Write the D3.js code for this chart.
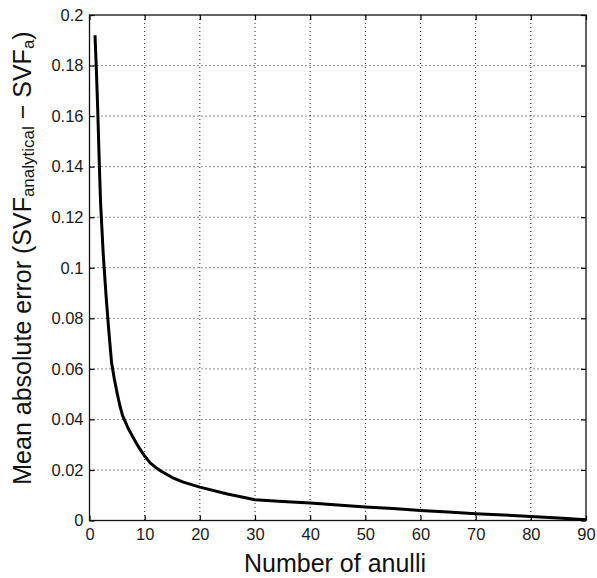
<!DOCTYPE html>
<html>
<head>
<meta charset="utf-8">
<script src="https://cdn.jsdelivr.net/npm/d3@7/dist/d3.min.js"></script>
<style>
  html, body { margin: 0; padding: 0; background: #fff; }
  svg { display: block; font-family: "Liberation Sans", Arial, Helvetica, sans-serif; }
</style>
</head>
<body>
<svg id="chart" width="597" height="578"></svg>
<script>
// ---- data ----
const annuli = [1, 1.25, 1.5, 1.75, 2, 2.5, 3, 3.5, 4, 4.5, 5, 5.5, 6, 6.5, 7, 8, 9, 10, 11, 12, 13, 15, 17, 20, 25, 30, 35, 40, 45, 50, 55, 60, 65, 70, 75, 80, 85, 90];
const meanAbsError = [0.192, 0.178, 0.162, 0.143, 0.126, 0.105, 0.089, 0.075, 0.0625, 0.056, 0.0505, 0.0455, 0.0415, 0.039, 0.0365, 0.0325, 0.0287, 0.0255, 0.0228, 0.021, 0.0195, 0.0170, 0.0152, 0.0132, 0.0105, 0.0082, 0.0075, 0.0069, 0.0061, 0.0053, 0.0047, 0.0040, 0.0034, 0.0027, 0.0022, 0.0016, 0.0010, 0.0003];
const xTicks = [0, 10, 20, 30, 40, 50, 60, 70, 80, 90];
const yTicks = [0, 0.02, 0.04, 0.06, 0.08, 0.1, 0.12, 0.14, 0.16, 0.18, 0.2];
const xLabel = "Number of anulli";

(function () {
// ---- layout ----
const svg = d3.select("#chart");
const pL = 89.5, pR = 586, pT = 15, pB = 520.5;
const x = d3.scaleLinear().domain([0, 90]).range([pL, pR]);
const y = d3.scaleLinear().domain([0, 0.2]).range([pB, pT]);

// grid
const grid = svg.append("g").attr("stroke", "#222").attr("stroke-width", 1).attr("stroke-dasharray", "1,3");
grid.selectAll("line.vx").data(xTicks.slice(1, -1)).join("line").attr("class", "vx")
  .attr("x1", d => x(d)).attr("x2", d => x(d)).attr("y1", pT).attr("y2", pB);
grid.selectAll("line.hy").data(yTicks.slice(1, -1)).join("line").attr("class", "hy")
  .attr("y1", d => y(d)).attr("y2", d => y(d)).attr("x1", pL).attr("x2", pR);

// axes
const fmtY = d => d === 0 ? "0" : String(+d.toFixed(2));
const axB = svg.append("g").attr("transform", `translate(0,${pB})`)
  .call(d3.axisBottom(x).tickValues(xTicks).tickSizeInner(-5).tickSizeOuter(0).tickPadding(8).tickFormat(d3.format("d")));
const axT = svg.append("g").attr("transform", `translate(0,${pT})`)
  .call(d3.axisTop(x).tickValues(xTicks).tickSizeInner(-5).tickSizeOuter(0).tickFormat(""));
const axL = svg.append("g").attr("transform", `translate(${pL},0)`)
  .call(d3.axisLeft(y).tickValues(yTicks).tickSizeInner(-5).tickSizeOuter(0).tickPadding(6).tickFormat(fmtY));
const axR = svg.append("g").attr("transform", `translate(${pR},0)`)
  .call(d3.axisRight(y).tickValues(yTicks).tickSizeInner(-5).tickSizeOuter(0).tickFormat(""));
[axB, axT, axL, axR].forEach(a => {
  a.select(".domain").remove();
  a.selectAll(".tick line").attr("stroke", "#000").attr("stroke-width", 1.2);
  a.selectAll("text").attr("fill", "#1a1a1a").style("font-size", "16.5px")
    .style("font-family", "'Liberation Sans', Arial, sans-serif");
});

// box
svg.append("rect").attr("x", pL).attr("y", pT).attr("width", pR - pL).attr("height", pB - pT)
  .attr("fill", "none").attr("stroke", "#111").attr("stroke-width", 1.3);

// curve
const line = d3.line().x((d, i) => x(annuli[i])).y(d => y(d));
svg.append("path").datum(meanAbsError).attr("d", line)
  .attr("fill", "none").attr("stroke", "#000").attr("stroke-width", 3).attr("stroke-linejoin", "round");

// labels
svg.append("text").attr("x", 335).attr("y", 572).attr("text-anchor", "middle")
  .style("font-size", "25px").attr("fill", "#111").text(xLabel);

const yl = svg.append("text").attr("transform", `translate(31,258) rotate(-90)`)
  .attr("text-anchor", "middle").style("font-size", "25px").attr("fill", "#111");
yl.append("tspan").text("Mean absolute error (SVF");
yl.append("tspan").attr("dy", 3).style("font-size", "17px").text("analytical");
yl.append("tspan").attr("dy", -3).text(" \u2212 SVF");
yl.append("tspan").attr("dy", 3).style("font-size", "17px").text("a");
yl.append("tspan").attr("dy", -3).text(")");
})();
</script>
</body>
</html>
